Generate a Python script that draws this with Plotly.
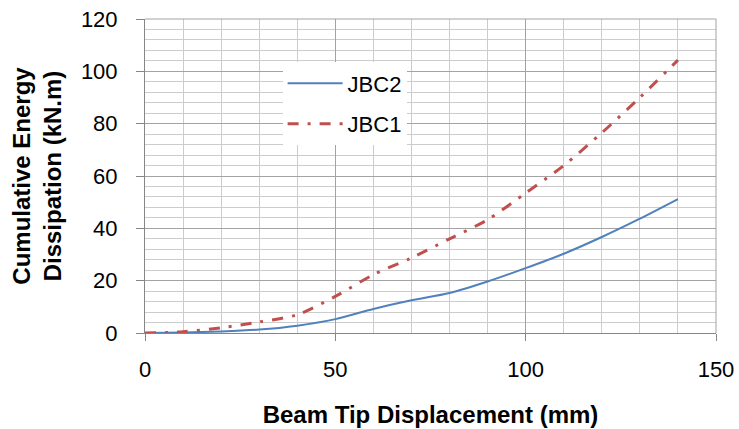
import plotly.graph_objects as go

disp = [0, 10, 20, 30, 40, 50, 60, 70, 80, 90, 100, 110, 120, 130, 140]
jbc2 = [0, 0.2, 0.6, 1.3, 2.8, 5.3, 9.2, 12.5, 15.3, 19.7, 24.8, 30.3, 36.7, 43.7, 51.2]
jbc1 = [0, 0.5, 2.0, 4.2, 7.0, 14.0, 22.3, 28.7, 36.0, 43.3, 53.5, 64.0, 76.5, 90.0, 104.3]

FONT = "Liberation Sans, Arial, sans-serif"

fig = go.Figure()
fig.add_trace(go.Scatter(x=disp, y=jbc2, mode="lines", name="JBC2",
                         line=dict(color="#4f81bd", width=2, shape="spline", smoothing=0.8),
                         legendgroup="a"))
fig.add_trace(go.Scatter(x=disp, y=jbc1, mode="lines", name="JBC1",
                         line=dict(color="#c0504d", width=3, shape="spline", smoothing=0.8,
                                   dash="11px,9px,3px,9px"),
                         legendgroup="b"))

fig.update_layout(
    width=739, height=429,
    margin=dict(l=145, r=23, t=19, b=96),
    plot_bgcolor="white", paper_bgcolor="white",
    font=dict(family=FONT, size=22, color="#000000"),
    showlegend=True,
    legend=dict(x=0.241, y=0.862, xanchor="left", yanchor="top",
                bgcolor="white", borderwidth=0, font=dict(size=22),
                itemwidth=55, tracegroupgap=9),
    xaxis=dict(range=[0, 150], dtick=50, tick0=0, automargin=False,
               showgrid=True, gridcolor="#a3a3a3", gridwidth=1,
               minor=dict(dtick=10, showgrid=True, gridcolor="#cccccc", gridwidth=1),
               showline=True, linecolor="#868686", linewidth=1,
               ticks="outside", ticklen=7, tickcolor="#868686",
               zeroline=False, ticklabelstandoff=10,
               title=dict(text="<b>Beam Tip Displacement (mm)</b>", font=dict(size=24), standoff=24)),
    yaxis=dict(range=[0, 120], dtick=20, tick0=0, automargin=False,
               showgrid=True, gridcolor="#a3a3a3", gridwidth=1,
               minor=dict(dtick=4, showgrid=True, gridcolor="#cccccc", gridwidth=1),
               showline=True, linecolor="#868686", linewidth=1,
               ticks="outside", ticklen=8, tickcolor="#868686",
               zeroline=False, ticklabelstandoff=14,
               title=dict(text="<b>Cumulative Energy<br>Dissipation (kN.m)</b>", font=dict(size=24), standoff=12)),
)
fig.add_shape(type="line", xref="paper", yref="paper", x0=0, x1=1, y0=1, y1=1,
              line=dict(color="#a3a3a3", width=1))
fig.add_shape(type="line", xref="paper", yref="paper", x0=1, x1=1, y0=0, y1=1,
              line=dict(color="#a3a3a3", width=1))

fig.write_html("out.html")
